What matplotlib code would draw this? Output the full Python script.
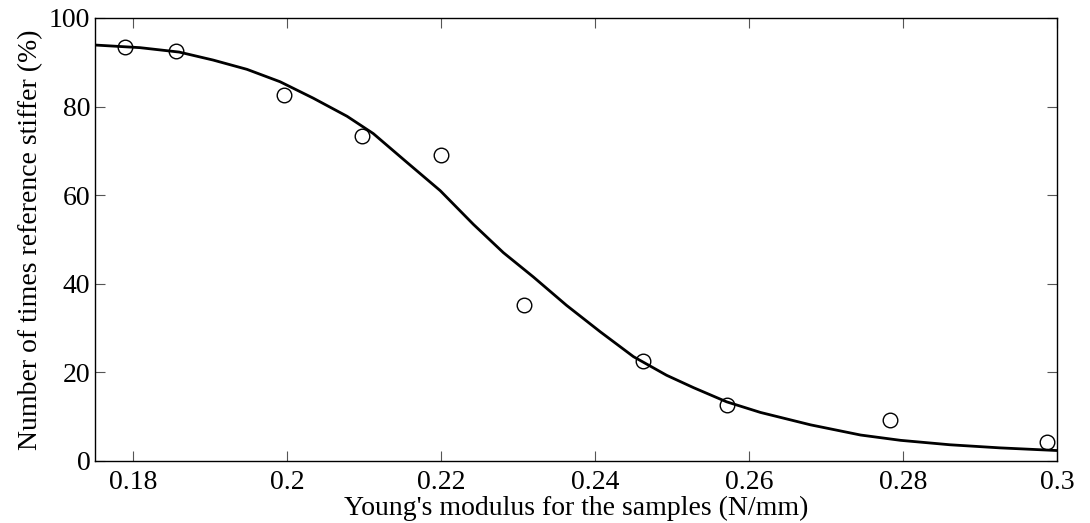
import matplotlib
matplotlib.use("Agg")
import matplotlib.pyplot as plt

# measured points
modulus = [0.179, 0.1856, 0.1996, 0.2098, 0.2200, 0.2308, 0.2463, 0.2571, 0.2783, 0.2987]
pct_stiffer = [93.4, 92.5, 82.5, 73.3, 69.1, 35.1, 22.6, 12.6, 9.3, 4.3]

# fitted curve
fit_x = [0.175, 0.1809, 0.186, 0.1904, 0.1948, 0.1991, 0.2034, 0.2078, 0.2112,
         0.2155, 0.2199, 0.2242, 0.2281, 0.2320, 0.2363, 0.2407, 0.2450, 0.2493,
         0.2528, 0.2571, 0.2615, 0.2680, 0.2745, 0.2797, 0.2861, 0.2926, 0.3]
fit_y = [93.9, 93.3, 92.3, 90.5, 88.4, 85.6, 81.9, 77.8, 73.9,
         67.5, 61.0, 53.4, 47.0, 41.5, 35.1, 29.1, 23.5, 19.3,
         16.5, 13.3, 10.9, 8.1, 5.8, 4.6, 3.6, 2.9, 2.3]

xticks = [0.18, 0.2, 0.22, 0.24, 0.26, 0.28, 0.3]
xticklabels = ["0.18", "0.2", "0.22", "0.24", "0.26", "0.28", "0.3"]
yticks = [0, 20, 40, 60, 80, 100]

plt.rcParams["font.family"] = ["Liberation Serif", "DejaVu Serif"]

fig = plt.figure(figsize=(10.9, 5.23), dpi=100)
ax = fig.add_axes([0.0867, 0.1191, 0.883, 0.8465])

ax.plot(fit_x, fit_y, "k-", lw=2.0, solid_joinstyle="round")
ax.plot(modulus, pct_stiffer, "o", mfc="none", mec="k", ms=10.5, mew=1.0)

ax.set_xlim(0.175, 0.3)
ax.set_ylim(0, 100)
ax.set_xticks(xticks)
ax.set_xticklabels(xticklabels)
ax.set_yticks(yticks)
ax.tick_params(direction="in", length=7, width=0.8, color="#555555",
               top=True, right=True, labelsize=20, labelcolor="k")
ax.tick_params(axis="x", pad=7)
ax.tick_params(axis="y", pad=3)
for s in ax.spines.values():
    s.set_linewidth(1.0)

ax.set_xlabel("Young's modulus for the samples (N/mm)", fontsize=20, labelpad=0)
ax.set_ylabel("Number of times reference stiffer (%)", fontsize=20, labelpad=4)

fig.savefig("out.png", dpi=100)
